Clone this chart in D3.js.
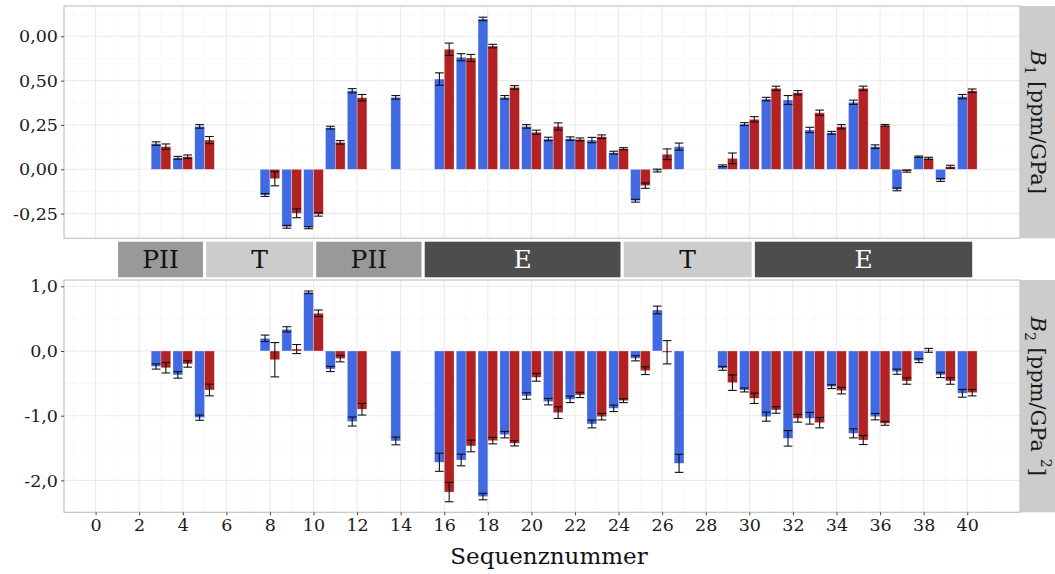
<!DOCTYPE html>
<html>
<head>
<meta charset="utf-8">
<script src="https://cdn.jsdelivr.net/npm/d3@7"></script>
<style>
  body { margin: 0; background: #fff; }
  text { font-family: "DejaVu Serif", serif; }
</style>
</head>
<body>
<div id="chart"></div>
<script>
// Sequenznummern mit Messwerten
var seq = [3,4,5,8,9,10,11,12,14,16,17,18,19,20,21,22,23,24,25,26,27,29,30,31,32,33,34,35,36,37,38,39,40];

// B1 (oben), blau / rot mit Fehlern
var b1Blau = [0.145,0.065,0.242,-0.145,-0.324,-0.329,0.235,0.443,0.406,0.509,0.632,0.848,0.406,0.242,0.171,0.173,0.165,0.094,-0.177,-0.007,0.128,0.02,0.255,0.396,0.391,0.222,0.206,0.378,0.128,-0.113,0.071,-0.06,0.41];
var b1BlauErr = [0.01,0.008,0.01,0.008,0.008,0.006,0.008,0.012,0.01,0.035,0.02,0.01,0.01,0.01,0.01,0.01,0.015,0.008,0.008,0.008,0.02,0.005,0.008,0.01,0.025,0.015,0.008,0.012,0.01,0.008,0.004,0.008,0.012];
var b1Rot = [0.128,0.071,0.165,-0.053,-0.248,-0.254,0.152,0.404,null,0.677,0.628,0.695,0.462,0.209,0.242,0.169,0.184,0.116,-0.092,0.085,null,0.062,0.282,0.457,0.432,0.319,0.24,0.457,0.248,-0.01,0.062,0.015,0.443];
var b1RotErr = [0.015,0.01,0.02,0.04,0.025,0.01,0.01,0.018,null,0.035,0.02,0.01,0.01,0.012,0.02,0.008,0.01,0.006,0.015,0.03,null,0.03,0.015,0.012,0.012,0.015,0.012,0.012,0.005,0.006,0.006,0.008,0.01];

// B2 (unten)
var b2Blau = [-0.24,-0.37,-1.03,0.196,0.335,0.907,-0.278,-1.09,-1.39,-1.72,-1.685,-2.25,-1.293,-0.696,-0.783,-0.747,-1.128,-0.886,-0.113,0.634,-1.736,-0.268,-0.603,-1.015,-1.35,-1.04,-0.551,-1.273,-1.015,-0.32,-0.15,-0.371,-0.654];
var b2BlauErr = [0.04,0.05,0.04,0.05,0.04,0.02,0.04,0.07,0.06,0.14,0.09,0.05,0.05,0.05,0.05,0.05,0.06,0.05,0.04,0.06,0.14,0.03,0.03,0.07,0.12,0.09,0.03,0.07,0.05,0.04,0.03,0.04,0.06];
var b2Rot = [-0.26,-0.2,-0.603,-0.135,0.03,0.583,-0.118,-0.9,null,-2.18,-1.468,-1.386,-1.427,-0.407,-0.953,-0.68,-1.015,-0.768,-0.304,-0.02,null,-0.49,-0.731,-0.912,-1.04,-1.108,-0.613,-1.376,-1.118,-0.464,0.01,-0.464,-0.644];
var b2RotErr = [0.08,0.05,0.09,0.265,0.07,0.05,0.05,0.09,null,0.15,0.09,0.05,0.04,0.06,0.09,0.04,0.05,0.03,0.06,0.18,null,0.12,0.08,0.05,0.06,0.08,0.05,0.07,0.03,0.05,0.03,0.05,0.05];

// Achsenbeschriftungen
var b1Ticks = [-0.25,0,0.25,0.5,0.75];
var b1TickLabels = ["-0,25","0,00","0,25","0,50","0,00"];
var b2Ticks = [-2,-1,0,1];
var b2TickLabels = ["-2,0","-1,0","0,0","1,0"];
var xTicks = d3.range(0,41,2);

// Phasen
var phasen = ["PII","T","PII","E","T","E"];
var phasenStart = [0.96,5.0,10.05,15.03,24.16,30.18];
var phasenEnde = [5.0,10.05,15.03,24.16,30.18,40.3];

var farbe = {blau:"#4169E1", rot:"#B22222"};
var phasenFarbe = {PII:"#999999", T:"#cccccc", E:"#4d4d4d"};

var W = 1055, H = 574;
var svg = d3.select("#chart").append("svg").attr("width",W).attr("height",H);

var x = d3.scaleLinear().domain([-1.45,42.42]).range([64,1020]);
var bw = x(0.45)-x(0);

function panel(top,bottom,yDom,ticks,tickLabels,blau,blauErr,rot,rotErr,stripSub,hoch){
	var y = d3.scaleLinear().domain(yDom).range([bottom,top]);
	var g = svg.append("g");
	g.append("rect").attr("x",64).attr("y",top).attr("width",1020-64).attr("height",bottom-top).attr("fill","#fff");

	// Gitter: minor
	var yMinor = d3.range(ticks[0]-(ticks[1]-ticks[0])/2, yDom[1], ticks[1]-ticks[0]).filter(v=>v>yDom[0]);
	g.selectAll(".ymin").data(yMinor).enter().append("line")
		.attr("x1",64).attr("x2",1020).attr("y1",d=>y(d)).attr("y2",d=>y(d))
		.attr("stroke","#f3f3f3").attr("stroke-width",0.6);
	g.selectAll(".xmin").data(d3.range(-1,43,2)).enter().append("line")
		.attr("x1",d=>x(d)).attr("x2",d=>x(d)).attr("y1",top).attr("y2",bottom)
		.attr("stroke","#f3f3f3").attr("stroke-width",0.6);
	// Gitter: major
	g.selectAll(".ymaj").data(ticks).enter().append("line")
		.attr("x1",64).attr("x2",1020).attr("y1",d=>y(d)).attr("y2",d=>y(d))
		.attr("stroke","#ebebeb").attr("stroke-width",1.1);
	g.selectAll(".xmaj").data(xTicks).enter().append("line")
		.attr("x1",d=>x(d)).attr("x2",d=>x(d)).attr("y1",top).attr("y2",bottom)
		.attr("stroke","#ebebeb").attr("stroke-width",1.1);

	var daten = seq.map(function(s,i){
		return {s:s, b:blau[i], be:blauErr[i], r:rot[i], re:rotErr[i]};
	});

	// Balken blau
	g.selectAll(".blau").data(daten).enter().append("rect")
		.attr("x",d=>x(d.s-0.45))
		.attr("y",d=>y(Math.max(0,d.b)))
		.attr("width",bw)
		.attr("height",d=>Math.abs(y(d.b)-y(0)))
		.attr("fill",farbe.blau).attr("stroke","#fff").attr("stroke-opacity",0.5).attr("stroke-width",0.6);
	// Balken rot
	var rotDaten = daten.filter(d=>d.r!==null);
	g.selectAll(".rot").data(rotDaten).enter().append("rect")
		.attr("x",d=>x(d.s))
		.attr("y",d=>y(Math.max(0,d.r)))
		.attr("width",bw)
		.attr("height",d=>Math.abs(y(d.r)-y(0)))
		.attr("fill",farbe.rot).attr("stroke","#fff").attr("stroke-opacity",0.5).attr("stroke-width",0.6);

	// Fehlerbalken
	var fehler = [];
	daten.forEach(function(d){
		fehler.push({xc:d.s-0.225, v:d.b, e:d.be});
		if(d.r!==null) fehler.push({xc:d.s+0.225, v:d.r, e:d.re});
	});
	var eb = g.selectAll(".eb").data(fehler).enter().append("g").attr("stroke","#111").attr("stroke-width",1.1);
	eb.append("line").attr("x1",d=>x(d.xc)).attr("x2",d=>x(d.xc)).attr("y1",d=>y(d.v-d.e)).attr("y2",d=>y(d.v+d.e));
	eb.append("line").attr("x1",d=>x(d.xc-0.2)).attr("x2",d=>x(d.xc+0.2)).attr("y1",d=>y(d.v-d.e)).attr("y2",d=>y(d.v-d.e));
	eb.append("line").attr("x1",d=>x(d.xc-0.2)).attr("x2",d=>x(d.xc+0.2)).attr("y1",d=>y(d.v+d.e)).attr("y2",d=>y(d.v+d.e));

	// Rahmen
	g.append("rect").attr("x",64).attr("y",top).attr("width",1020-64).attr("height",bottom-top)
		.attr("fill","none").attr("stroke","#c4c4c4").attr("stroke-width",1.2);

	// y-Achse
	var ax = g.append("g").attr("transform","translate(64,0)")
		.call(d3.axisLeft(y).tickValues(ticks).tickFormat((d,i)=>tickLabels[i]).tickSize(3).tickPadding(3));
	ax.select(".domain").remove();
	ax.selectAll("line").attr("stroke","#444");
	ax.selectAll("text").style("font-family","DejaVu Serif").style("font-size","17.5px").attr("fill","#1a1a1a");

	// Streifen rechts
	g.append("rect").attr("x",1020).attr("y",top).attr("width",50).attr("height",bottom-top).attr("fill","#cccccc");
	var t = g.append("text")
		.attr("transform","translate(1038,"+((top+bottom)/2)+") rotate(90)")
		.attr("text-anchor","middle").attr("dominant-baseline","central")
		.style("font-size","21px").attr("fill","#1a1a1a");
	t.append("tspan").style("font-style","italic").text("B");
	t.append("tspan").attr("baseline-shift","sub").style("font-size","14px").text(stripSub);
	t.append("tspan").text(hoch ? " [ppm/GPa " : " [ppm/GPa]");
	if(hoch){
		t.append("tspan").attr("baseline-shift","super").style("font-size","14px").text("2");
		t.append("tspan").text("]");
	}
	return y;
}

panel(6,238.3,[-0.389,0.921],b1Ticks,b1TickLabels,b1Blau,b1BlauErr,b1Rot,b1RotErr,"1",false);
panel(280,512.3,[-2.493,1.097],b2Ticks,b2TickLabels,b2Blau,b2BlauErr,b2Rot,b2RotErr,"2",true);

// Phasenstreifen
var ph = svg.selectAll(".phase").data(phasen).enter().append("g");
ph.append("rect")
	.attr("x",(d,i)=>x(phasenStart[i])+1.6)
	.attr("width",(d,i)=>x(phasenEnde[i])-x(phasenStart[i])-3.2)
	.attr("y",241.7).attr("height",35.6)
	.attr("fill",d=>phasenFarbe[d]);
ph.append("text")
	.attr("x",(d,i)=>(x(phasenStart[i])+x(phasenEnde[i]))/2)
	.attr("y",268)
	.attr("text-anchor","middle")
	.style("font-size","25px")
	.attr("fill",d=>d==="E"?"#ffffff":"#111111")
	.text(d=>d);

// x-Achse
var xa = svg.append("g").attr("transform","translate(0,512.3)")
	.call(d3.axisBottom(x).tickValues(xTicks).tickFormat(d3.format("d")).tickSize(3).tickPadding(3));
xa.select(".domain").remove();
xa.selectAll("line").attr("stroke","#444");
xa.selectAll("text").style("font-family","DejaVu Serif").style("font-size","17.5px").attr("fill","#1a1a1a");

svg.append("text").attr("x",549).attr("y",564).attr("text-anchor","middle")
	.style("font-size","23px").attr("fill","#111").text("Sequenznummer");
</script>
</body>
</html>
